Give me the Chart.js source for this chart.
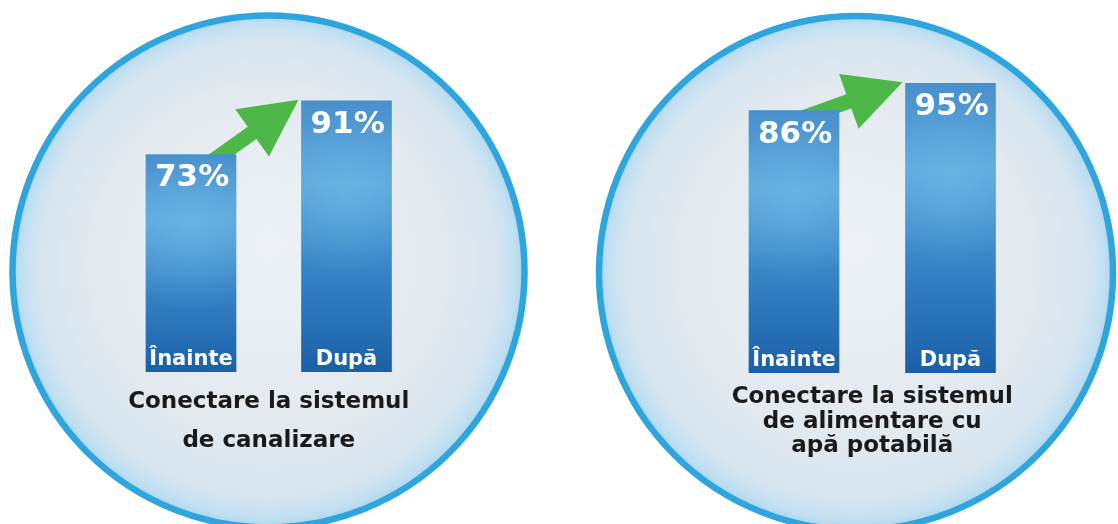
<!DOCTYPE html>
<html><head><meta charset="utf-8">
<script src="https://cdn.jsdelivr.net/npm/chart.js@4"></script>
<style>
html,body{margin:0;padding:0;background:#fff;width:1118px;height:524px;overflow:hidden}
canvas{position:absolute;top:0}
#c1{left:0}
#c2{left:559px}
</style></head><body>
<canvas id="c1" width="559" height="524"></canvas>
<canvas id="c2" width="559" height="524"></canvas>
<script>
// ---- data ----
const categories = ['Înainte', 'După'];
const sewerValues = [73, 91];
const waterValues = [86, 95];
const sewerCaption = ['Conectare la sistemul', 'de canalizare'];
const waterCaption = ['Conectare la sistemul', 'de alimentare cu', 'apă potabilă'];
const valueSuffix = '%';

// ---- styling helpers ----
function barFill(ctx) {
  const chart = ctx.chart;
  if (!chart.chartArea || ctx.raw === undefined) return '#3a8acb';
  const y = chart.scales.y;
  const top = y.getPixelForValue(ctx.raw), bot = y.getPixelForValue(0);
  const g = chart.ctx.createLinearGradient(0, top, 0, bot);
  g.addColorStop(0, '#4890cd');
  g.addColorStop(0.3, '#5ca9dd');
  g.addColorStop(0.65, '#3481c4');
  g.addColorStop(1, '#1b60a7');
  return g;
}

const decorPlugin = {
  id: 'decor',
  beforeDraw(chart, args, o) {
    const c = chart.ctx;
    c.save();
    const g = c.createRadialGradient(o.cx, o.cy - 30, 0, o.cx, o.cy, o.r);
    g.addColorStop(0, '#eef2f6');
    g.addColorStop(0.7, '#e2e9ef');
    g.addColorStop(0.9, '#d6e5f0');
    g.addColorStop(0.97, '#bfdff2');
    g.addColorStop(1, '#a8d5ef');
    c.beginPath();
    c.arc(o.cx, o.cy, o.r, 0, Math.PI * 2);
    c.fillStyle = g;
    c.fill();
    c.lineWidth = 6.5;
    c.strokeStyle = '#2ea6dd';
    c.stroke();
    c.restore();
  },
  beforeDatasetsDraw(chart, args, o) {
    // arrow drawn behind the bars, so its tail disappears into the first bar
    const c = chart.ctx;
    const meta = chart.getDatasetMeta(0);
    const b0 = meta.data[0], b1 = meta.data[1];
    const sx = b0.x + o.arrowStartDx, sy = b0.y + 12;
    const tx = b1.x - b1.width / 2 - 3, ty = b1.y - 1;
    const ang = Math.atan2(ty - sy, tx - sx);
    const L = Math.hypot(tx - sx, ty - sy);
    c.save();
    c.translate(tx, ty); c.rotate(ang);
    c.beginPath();
    c.moveTo(0, 0);
    c.lineTo(-57, -29);
    c.lineTo(-57, -7.5);
    c.lineTo(-L, -7.5);
    c.lineTo(-L, 7.5);
    c.lineTo(-57, 7.5);
    c.lineTo(-57, 29);
    c.closePath();
    c.fillStyle = '#4db848';
    c.fill();
    c.restore();
  },
  afterDatasetsDraw(chart, args, o) {
    const c = chart.ctx;
    const ca = chart.chartArea;
    const meta = chart.getDatasetMeta(0);
    const vals = chart.data.datasets[0].data;
    c.save();
    // soft highlight inside bars
    meta.data.forEach((b) => {
      const l = b.x - b.width / 2, h = b.base - b.y;
      c.save();
      c.beginPath(); c.rect(l, b.y, b.width, h); c.clip();
      const rg = c.createRadialGradient(b.x, b.y + h * 0.35, 0, b.x, b.y + h * 0.35, b.width * 0.9);
      rg.addColorStop(0, 'rgba(140,205,240,0.3)');
      rg.addColorStop(1, 'rgba(140,205,240,0)');
      c.fillStyle = rg;
      c.fillRect(l, b.y, b.width, h);
      c.restore();
    });
    // labels in bars
    c.fillStyle = '#ffffff';
    meta.data.forEach((b, i) => {
      const l = b.x - b.width / 2;
      c.font = 'bold 31px "DejaVu Sans"';
      c.textAlign = 'left'; c.textBaseline = 'alphabetic';
      c.fillText(vals[i] + valueSuffix, l + 9, b.y + 32);
      c.font = 'bold 21px "DejaVu Sans"';
      c.textAlign = 'center';
      c.fillText(chart.data.labels[i], b.x, b.base - 7);
    });
    // caption
    c.fillStyle = '#1a1a1a';
    c.font = 'bold 23px "DejaVu Sans"';
    c.textAlign = 'center';
    const cx = (ca.left + ca.right) / 2;
    o.caption.forEach((line, i) => {
      c.fillText(line, cx, ca.bottom + o.captionOffsets[i]);
    });
    c.restore();
  }
};

function makeChart(id, values, padding, decor) {
  return new Chart(document.getElementById(id), {
    type: 'bar',
    data: {
      labels: categories,
      datasets: [{ data: values, backgroundColor: barFill, borderWidth: 0, barThickness: 90 }]
    },
    options: {
      responsive: false,
      animation: false,
      layout: { padding: padding },
      scales: {
        x: { display: false },
        y: { display: false, min: 0, max: 100 }
      },
      plugins: {
        legend: { display: false },
        tooltip: { enabled: false },
        decor: decor
      }
    },
    plugins: [decorPlugin]
  });
}

makeChart('c1', sewerValues,
  { left: 113.25, right: 134.75, top: 74, bottom: 152 },
  { cx: 268.5, cy: 271.5, r: 256, arrowStartDx: 14, caption: sewerCaption, captionOffsets: [36, 75] });

makeChart('c2', waterValues,
  { left: 156.75, right: 89.25, top: 68, bottom: 151 },
  { cx: 297, cy: 273, r: 257, arrowStartDx: -5, caption: waterCaption, captionOffsets: [30, 55, 79] });
</script>
</body></html>
